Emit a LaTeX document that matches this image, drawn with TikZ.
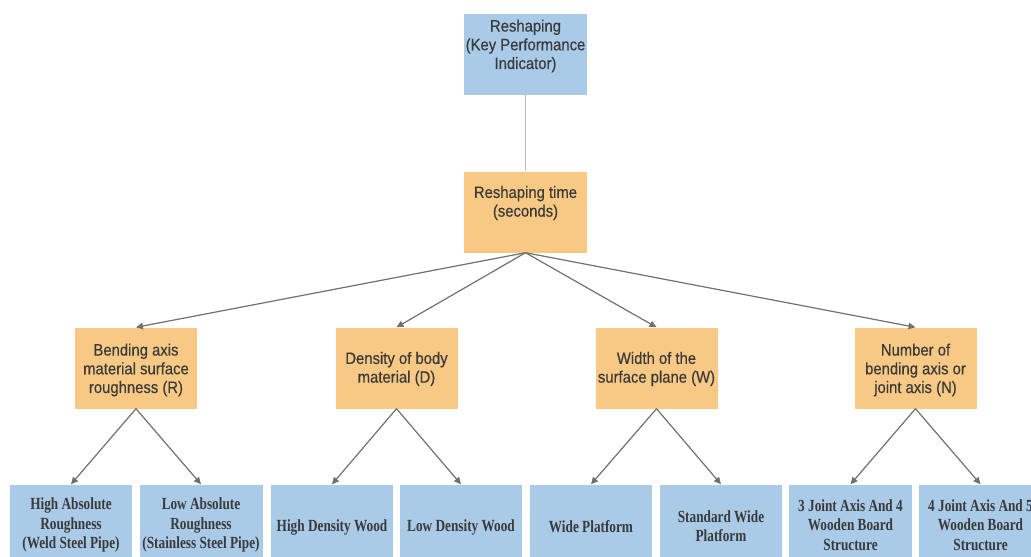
\documentclass[tikz,border=0pt]{standalone}
\usepackage{fontspec}
\setmainfont{Liberation Sans}
\newfontfamily\condsans[FakeStretch=0.9,FakeBold=0.4]{Liberation Sans}
\newfontfamily\condserif[FakeStretch=0.78]{Liberation Serif}
\usetikzlibrary{arrows.meta}
\definecolor{bluebox}{HTML}{A9CBE8}
\definecolor{orangebox}{HTML}{F8C984}
\definecolor{txt}{HTML}{3A3A3A}
\definecolor{arr}{HTML}{707070}
\definecolor{lightline}{HTML}{B8B8B8}
\tikzset{
  boxshape/.style={draw=none, minimum width=123pt, minimum height=81pt, inner sep=0pt},
  bluekind/.style={boxshape, fill=bluebox},
  orangekind/.style={boxshape, fill=orangebox},
  sanstext/.style={text=txt, align=center, font=\condsans\fontsize{16.5}{18.7}\selectfont},
  seriftext/.style={text=txt, align=center, font=\condserif\bfseries\fontsize{17}{19.5}\selectfont},
  conn/.style={draw=arr, line width=1.2pt, -{Triangle[length=7pt,width=6.5pt]}},
}
\begin{document}
\begin{tikzpicture}[x=1pt,y=-1pt]
\useasboundingbox (0,0) rectangle (1031,557);
\begin{scope}
\clip (0,0) rectangle (1031,557);
% top
\node[bluekind] (kpi) at (525.5,54.5) {};
\node[sanstext] (kpiT) at (525.5,46) {Reshaping\\(Key Performance\\Indicator)};
% middle
\node[orangekind] (time) at (525.5,212) {};
\node[sanstext] (timeT) at (525.5,203) {Reshaping time\\(seconds)};
% level 2
\node[orangekind, minimum width=122pt] (R) at (136,368) {};
\node[sanstext] at (136,370) {Bending axis\\material surface\\roughness (R)};
\node[orangekind, minimum width=122pt] (D) at (396.5,368) {};
\node[sanstext] at (396.5,369) {Density of body\\material (D)};
\node[orangekind, minimum width=122pt] (W) at (656.5,368) {};
\node[sanstext] at (656.5,369) {Width of the\\surface plane (W)};
\node[orangekind, minimum width=122pt] (N) at (915.5,368) {};
\node[sanstext] at (915.5,370) {Number of\\bending axis or\\joint axis (N)};
% bottom
\node[bluekind, minimum width=122pt] (r1) at (71,525) {};
\node[seriftext] at (71,525) {High Absolute\\Roughness\\(Weld Steel Pipe)};
\node[bluekind, minimum width=123pt] (r2) at (201,525) {};
\node[seriftext] at (201,525) {Low Absolute\\Roughness\\(Stainless Steel Pipe)};
\node[bluekind, minimum width=122pt] (d1) at (332,525) {};
\node[seriftext] at (332,527) {High Density Wood};
\node[bluekind, minimum width=122pt] (d2) at (461,525) {};
\node[seriftext] at (461,527) {Low Density Wood};
\node[bluekind, minimum width=122pt] (w1) at (591,525) {};
\node[seriftext] at (591,527) {Wide Platform};
\node[bluekind, minimum width=122pt] (w2) at (721,525) {};
\node[seriftext] at (721,526) {Standard Wide\\Platform};
\node[bluekind, minimum width=123pt] (n1) at (850.5,525) {};
\node[seriftext] at (850.5,525) {3 Joint Axis And 4\\Wooden Board\\Structure};
\node[bluekind, minimum width=123pt] (n2) at (980.5,525) {};
\node[seriftext] at (980.5,525) {4 Joint Axis And 5\\Wooden Board\\Structure};
\end{scope}
% connectors
\draw[lightline, line width=1.5pt] (kpi.south) -- (time.north);
\foreach \t in {R,D,W,N} \draw[conn] (time.south) -- (\t.north);
\draw[conn] (R.south) -- (r1.north);
\draw[conn] (R.south) -- (r2.north);
\draw[conn] (D.south) -- (d1.north);
\draw[conn] (D.south) -- (d2.north);
\draw[conn] (W.south) -- (w1.north);
\draw[conn] (W.south) -- (w2.north);
\draw[conn] (N.south) -- (n1.north);
\draw[conn] (N.south) -- (n2.north);
\end{tikzpicture}
\end{document}
